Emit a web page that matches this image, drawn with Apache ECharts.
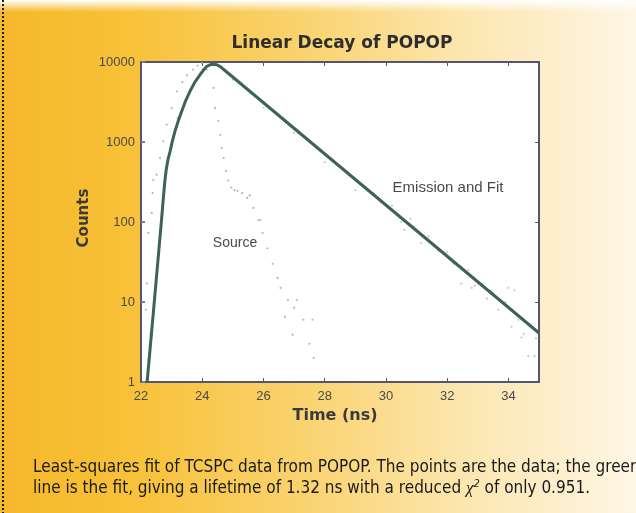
<!DOCTYPE html>
<html>
<head>
<meta charset="utf-8">
<script src="https://cdn.jsdelivr.net/npm/echarts@6/dist/echarts.min.js"></script>
<style>
  html, body { margin: 0; padding: 0; }
  #main {
    width: 636px; height: 513px;
    background:
      linear-gradient(to bottom, #ffffff 0px, rgba(255,255,255,0) 12px),
      linear-gradient(to right, #f6b82a 0%, #f8c23a 22%, #fad370 48%, #fce6ad 72%, #fef6e6 100%);
  }
</style>
</head>
<body>
<div id="main"></div>
<script>
// fitted curve
var fitTime   = [22.2, 22.44, 22.67, 22.72, 22.77, 22.82, 22.88, 22.95, 23.03, 23.11, 23.22, 23.33, 23.46, 23.6, 23.76, 23.93, 24.05, 24.15, 24.23, 24.31, 24.4, 24.48, 24.6, 24.8, 35];
var fitCounts = [1, 10.6, 106, 180, 300, 440, 600, 765, 1050, 1360, 1850, 2420, 3300, 4300, 5600, 6940, 8000, 8840, 9150, 9300, 9330, 9250, 8700, 7500, 4.1];

// source (instrument response) points
var sourceTime   = [22.16, 22.19, 22.24, 22.35, 22.38, 22.4, 22.51, 22.62, 22.73, 22.84, 23.0, 23.17, 23.35, 23.5, 23.7,
                    23.85, 23.99, 24.15, 24.37, 24.42, 24.53, 24.59, 24.64, 24.7, 24.78, 24.85, 24.95, 25.05, 25.15, 25.3,
                    25.47, 25.55, 25.67, 25.84, 25.9, 25.97, 26.13, 26.3, 26.46, 26.56, 26.7, 26.8, 26.95, 27.0, 27.1,
                    27.3, 27.5, 27.6, 27.64];
var sourceCounts = [8, 17, 73, 130, 230, 335, 390, 630, 1020, 1650, 2650, 4300, 5600, 6800, 8000,
                    9000, 9700, 8000, 4740, 2650, 1830, 1230, 840, 630, 435, 330, 270, 250, 245, 230,
                    200, 215, 150, 105, 106, 73, 47, 30, 20, 15, 6.5, 10.6, 3.9, 8.5, 10.6,
                    6, 3, 6, 2];

// emission data points
var emissionTime   = [22.3, 22.5, 22.8, 23.2, 23.6, 24.0, 24.4, 25.0, 26.0, 27.0, 28.0, 29.0, 29.6, 30.2, 30.5, 30.6, 30.8,
                      31.15, 31.4, 31.7, 32.0, 32.2, 32.46, 32.7, 32.8, 32.9, 33.1, 33.3, 33.44, 33.5, 33.67, 33.9,
                      34.0, 34.1, 34.2, 34.33, 34.43, 34.5, 34.65, 34.85, 34.9];
var emissionCounts = [4, 20, 400, 2000, 4300, 7300, 9300, 6000, 2700, 1300, 560, 250, 230, 160, 100, 80, 110,
                      55, 66, 44, 42, 30, 17, 25, 15, 16, 17, 11, 14, 13, 8, 10,
                      15, 4.9, 14, 6, 3.6, 4, 2.1, 2.1, 3.5];

var xTicks = [22, 24, 26, 28, 30, 32, 34];

function pairs(xs, ys) {
  return xs.map(function (x, i) { return [x, ys[i]]; });
}

var myChart = echarts.init(document.getElementById('main'));

var frame = '#55566e';
var tickColor = '#6f7cb0';
var labelStyle = { color: '#4a4a4a', fontSize: 13, fontFamily: 'Liberation Sans, Arial, sans-serif' };

var option = {
  animation: false,
  title: {
    text: 'Linear Decay of POPOP',
    left: 337,
    top: 30,
    textAlign: 'center',
    textStyle: { fontSize: 17, fontWeight: 'bold', color: '#2e2e2e', fontFamily: 'DejaVu Sans, sans-serif' }
  },
  grid: {
    left: 141, right: 97, top: 62, bottom: 131,
    show: true, backgroundColor: '#ffffff', borderWidth: 0
  },
  xAxis: [{
    type: 'value', min: 22, max: 35, interval: 2,
    axisLine: { lineStyle: { color: frame, width: 2 } },
    axisTick: { inside: true, length: 4, lineStyle: { color: frame } },
    axisLabel: Object.assign({ showMaxLabel: false, margin: 8, formatter: function (v) { return xTicks.indexOf(v) >= 0 ? String(v) : ''; } }, labelStyle),
    splitLine: { show: false }
  }, {
    type: 'value', min: 22, max: 35, interval: 2, position: 'top',
    axisLine: { lineStyle: { color: frame, width: 2 } },
    axisTick: { inside: true, length: 4, lineStyle: { color: frame } },
    axisLabel: { show: false },
    splitLine: { show: false }
  }],
  yAxis: [{
    type: 'log', logBase: 10, min: 1, max: 10000,
    axisLine: { lineStyle: { color: frame, width: 2 } },
    axisTick: { inside: true, length: 4, lineStyle: { color: tickColor, width: 2 } },
    minorTick: { show: false },
    axisLabel: Object.assign({ margin: 6, formatter: function (v) { return String(Math.round(v)); } }, labelStyle),
    splitLine: { show: false }
  }, {
    type: 'log', logBase: 10, min: 1, max: 10000, position: 'right',
    axisLine: { lineStyle: { color: frame, width: 2 } },
    axisTick: { inside: true, length: 4, lineStyle: { color: frame } },
    axisLabel: { show: false },
    splitLine: { show: false }
  }],
  series: [
    {
      name: 'Source', type: 'scatter', symbol: 'circle', symbolSize: 2.2,
      itemStyle: { color: '#a4a4a4' },
      data: pairs(sourceTime, sourceCounts), z: 2
    },
    {
      name: 'Emission', type: 'scatter', symbol: 'circle', symbolSize: 2.2,
      itemStyle: { color: '#bcbcbc' },
      data: pairs(emissionTime, emissionCounts), z: 2
    },
    {
      name: 'Fit', type: 'line', showSymbol: false,
      lineStyle: { color: '#3d6357', width: 3, join: 'round' },
      data: pairs(fitTime, fitCounts), z: 3
    }
  ],
  graphic: [
    { type: 'line', shape: { x1: 3, y1: 0, x2: 3, y2: 513 }, style: { stroke: '#1e1e1e', lineWidth: 2, lineDash: [2, 2] } },
    { type: 'text', x: 84, y: 218, rotation: Math.PI / 2, style: { text: 'Counts', fill: '#3a3a3a', fontSize: 15, fontWeight: 'bold', fontFamily: 'DejaVu Sans, sans-serif', align: 'center', verticalAlign: 'middle' } },
    { type: 'text', x: 335, y: 416, style: { text: 'Time (ns)', fill: '#3a3a3a', fontSize: 16, fontWeight: 'bold', fontFamily: 'DejaVu Sans, sans-serif', align: 'center', verticalAlign: 'middle' } },
    { type: 'text', x: 448, y: 188, style: { text: 'Emission and Fit', fill: '#4a4a4a', fontSize: 15, fontFamily: 'Liberation Sans, Arial, sans-serif', align: 'center', verticalAlign: 'middle' } },
    { type: 'text', x: 235, y: 243, style: { text: 'Source', fill: '#4a4a4a', fontSize: 14, fontFamily: 'Liberation Sans, Arial, sans-serif', align: 'center', verticalAlign: 'middle' } },
    { type: 'text', x: 33, y: 468, style: {
        text: 'Least-squares fit of TCSPC data from POPOP. The points are the data; the green',
        fill: '#1a1a1a', fontSize: 17, fontFamily: 'Liberation Sans Narrow, DejaVu Sans Condensed, sans-serif', verticalAlign: 'middle' } },
    { type: 'text', x: 33, y: 489, style: {
        text: 'line is the fit, giving a lifetime of 1.32 ns with a reduced {chi|χ}{sup|2} of only 0.951.',
        fill: '#1a1a1a', fontSize: 17, fontFamily: 'Liberation Sans Narrow, DejaVu Sans Condensed, sans-serif', verticalAlign: 'middle',
        rich: {
          chi: { fontSize: 17, fontStyle: 'italic', fontFamily: 'Liberation Serif, serif', fill: '#1a1a1a' },
          sup: { fontSize: 11, fontStyle: 'italic', fill: '#1a1a1a', padding: [0, 0, 9, 0], fontFamily: 'DejaVu Sans Condensed, sans-serif' }
        } } }
  ]
};

myChart.setOption(option);
</script>
</body>
</html>
